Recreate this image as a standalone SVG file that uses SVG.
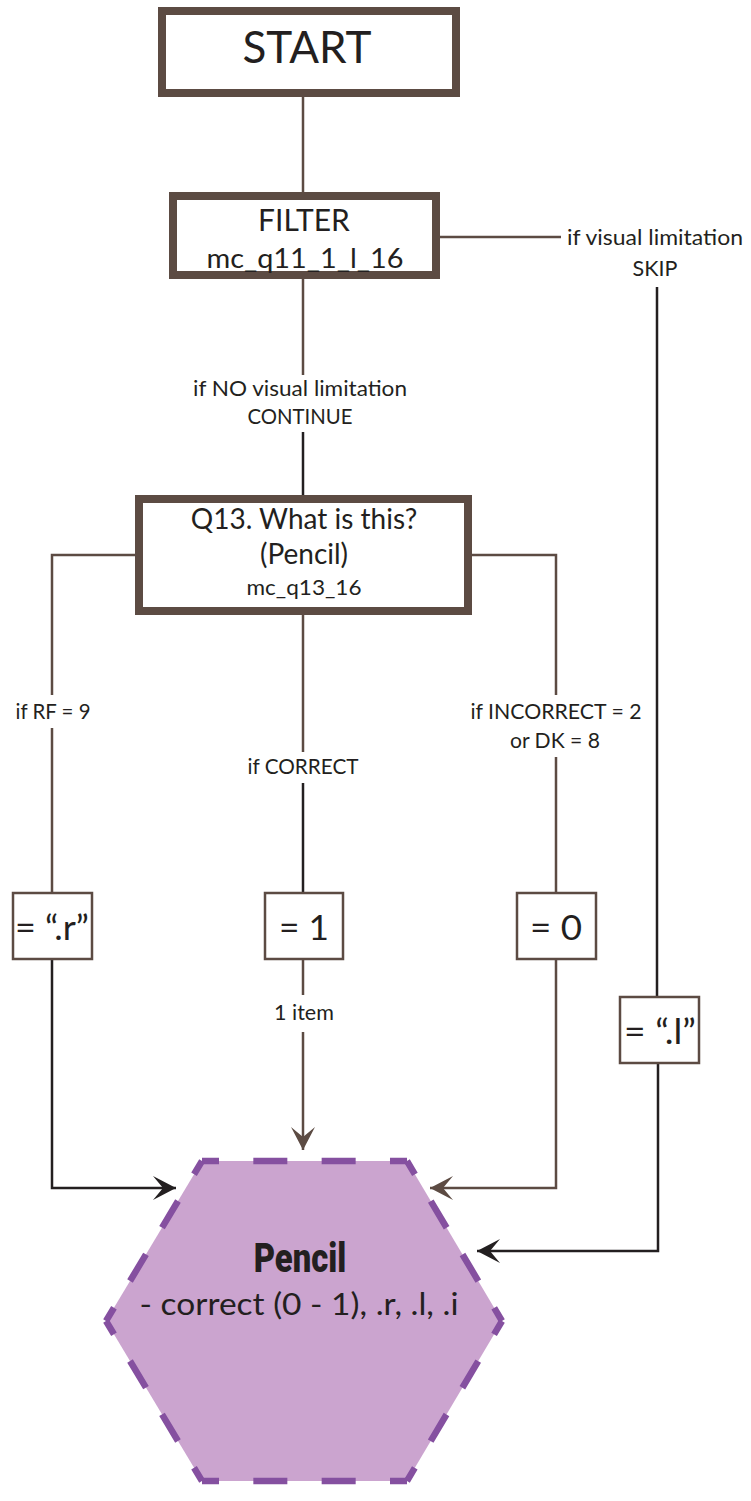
<svg xmlns="http://www.w3.org/2000/svg" width="751" height="1501" viewBox="0 0 751 1501">
<style>
.box{fill:#fff;stroke:#5c4b43;stroke-width:8}
.sbox{fill:#fff;stroke:#5c4b43;stroke-width:2.5}
.t{font-family:Lato,"Open Sans","Liberation Sans",sans-serif;fill:#231f20;text-anchor:middle}
.lbl{font-size:21.5px}
.val{font-size:34px}
.lb{stroke:#5c4b43;stroke-width:2.5;fill:none}
.ld{stroke:#231f20;stroke-width:2.5;fill:none}
.hex{fill:#cba4cf;stroke:none}
.he{stroke:#8550a0;stroke-width:6.5;fill:none}
</style>
<defs>
<marker id="ad" viewBox="-24 -12 26 24" refX="0" refY="0" markerWidth="26" markerHeight="24" markerUnits="userSpaceOnUse" orient="auto"><path d="M0,0 L-23,-12 L-13,0 L-23,12 Z" fill="#231f20"/></marker>
<marker id="ab" viewBox="-24 -12 26 24" refX="0" refY="0" markerWidth="26" markerHeight="24" markerUnits="userSpaceOnUse" orient="auto"><path d="M0,0 L-23,-12 L-13,0 L-23,12 Z" fill="#5c4b43"/></marker>
</defs>
<g id="connectors">
<path class="lb" d="M303,97 V192"/>
<path class="lb" d="M440,237 H561"/>
<path class="ld" d="M657,287 V997"/>
<path class="lb" d="M303,279 V375"/>
<path class="ld" d="M303,432 V495"/>
<path class="lb" d="M135,555 H52 V695"/>
<path class="lb" d="M52,728 V893"/>
<path class="lb" d="M472,555 H556 V695"/>
<path class="lb" d="M556,757 V893"/>
<path class="lb" d="M303,615 V752"/>
<path class="ld" d="M303,783 V893"/>
<path class="ld" d="M52,959 V1188 H176" marker-end="url(#ad)"/>
<path class="lb" d="M303,959 V995"/>
<path class="lb" d="M303,1032 V1150" marker-end="url(#ab)"/>
<path class="lb" d="M556,959 V1188 H430" marker-end="url(#ab)"/>
<path class="ld" d="M658,1063 V1251 H477" marker-end="url(#ad)"/>
<text class="t lbl" x="655" y="245" textLength="176" lengthAdjust="spacingAndGlyphs">if visual limitation</text>
<text class="t lbl" x="655" y="276">SKIP</text>
<text class="t lbl" x="300" y="396" textLength="214" lengthAdjust="spacingAndGlyphs">if NO visual limitation</text>
<text class="t lbl" x="300" y="424" textLength="105" lengthAdjust="spacingAndGlyphs">CONTINUE</text>
<text class="t lbl" x="53" y="719" textLength="75" lengthAdjust="spacingAndGlyphs">if RF = 9</text>
<text class="t lbl" x="303" y="774" textLength="111" lengthAdjust="spacingAndGlyphs">if CORRECT</text>
<text class="t lbl" x="556" y="719" textLength="171" lengthAdjust="spacingAndGlyphs">if INCORRECT = 2</text>
<text class="t lbl" x="555" y="748" textLength="90" lengthAdjust="spacingAndGlyphs">or DK = 8</text>
<text class="t lbl" x="304" y="1020">1 item</text>
</g>
<g id="start">
<rect class="box" x="162" y="11" width="294" height="82"/>
<text class="t" x="307" y="63" font-size="44">START</text>
</g>
<g id="filter">
<rect class="box" x="173" y="196" width="263" height="79"/>
<text class="t" x="304" y="231" font-size="30">FILTER</text>
<text class="t" x="305" y="268" font-size="27" textLength="197" lengthAdjust="spacingAndGlyphs">mc_q11_1_l_16</text>
</g>
<g id="q13">
<rect class="box" x="139" y="499" width="329" height="112"/>
<text class="t" x="304" y="529" font-size="28">Q13. What is this?</text>
<text class="t" x="304" y="564" font-size="28">(Pencil)</text>
<text class="t" x="304" y="595" font-size="22" textLength="115" lengthAdjust="spacingAndGlyphs">mc_q13_16</text>
</g>
<g id="val-r">
<rect class="sbox" x="13" y="893" width="79" height="66"/>
<text class="t val" x="52" y="940" textLength="74" lengthAdjust="spacingAndGlyphs">= “.r”</text>
</g>
<g id="val-1">
<rect class="sbox" x="265" y="893" width="78" height="66"/>
<text class="t val" x="304" y="940" textLength="50" lengthAdjust="spacingAndGlyphs">= 1</text>
</g>
<g id="val-0">
<rect class="sbox" x="517" y="893" width="79" height="66"/>
<text class="t val" x="556" y="940" textLength="52" lengthAdjust="spacingAndGlyphs">= 0</text>
</g>
<g id="val-l">
<rect class="sbox" x="620" y="997" width="79" height="66"/>
<text class="t val" x="660" y="1044" textLength="72" lengthAdjust="spacingAndGlyphs">= “.l”</text>
</g>
<g id="pencil">
<polygon class="hex" points="202,1161 407,1161 502,1321 407,1481 202,1481 106,1321"/>
<path class="he" d="M202,1161 L407,1161" stroke-dasharray="34 34.33" stroke-dashoffset="17"/>
<path class="he" d="M407,1161 L502,1321" stroke-dasharray="31 31.1" stroke-dashoffset="15.5"/>
<path class="he" d="M502,1321 L407,1481" stroke-dasharray="31 31.1" stroke-dashoffset="15.5"/>
<path class="he" d="M407,1481 L202,1481" stroke-dasharray="34 34.33" stroke-dashoffset="17"/>
<path class="he" d="M202,1481 L106,1321" stroke-dasharray="31 31.2" stroke-dashoffset="15.5"/>
<path class="he" d="M106,1321 L202,1161" stroke-dasharray="31 31.2" stroke-dashoffset="15.5"/>
<text class="t" transform="translate(300,1272) scale(0.8,1)" style="font-family:Roboto,'Liberation Sans',sans-serif;font-weight:900;font-size:41px">Pencil</text>
<text class="t" x="299" y="1315" font-size="30" textLength="319" lengthAdjust="spacingAndGlyphs">- correct (0 - 1), .r, .l, .i</text>
</g>
</svg>
